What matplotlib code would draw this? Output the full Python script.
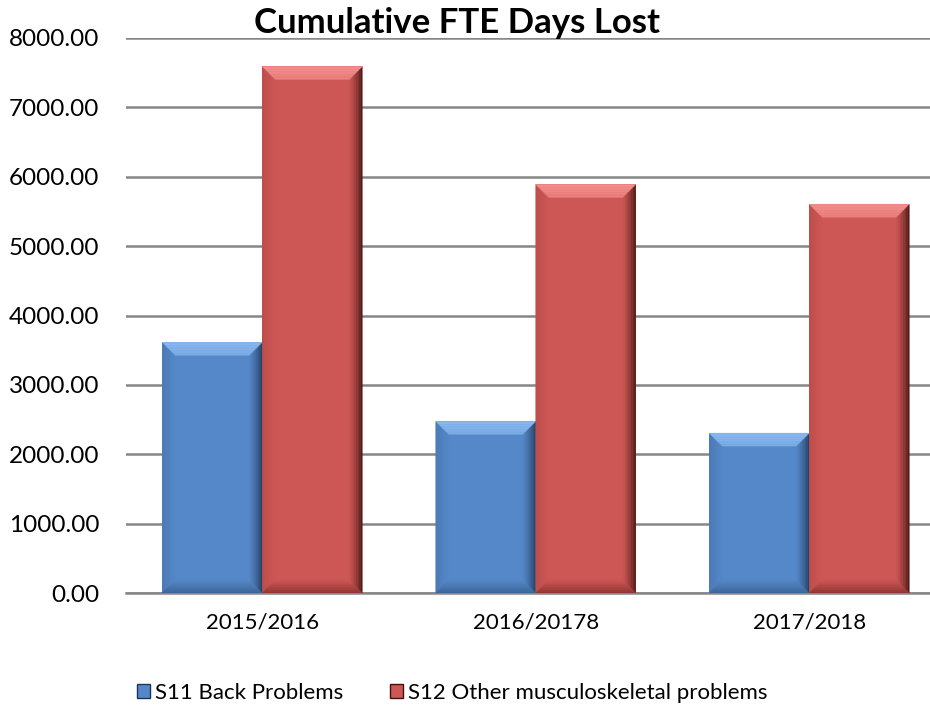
import numpy as np
import matplotlib
matplotlib.use('Agg')
import matplotlib.pyplot as plt
from matplotlib.patches import Polygon, Rectangle
from matplotlib.ticker import FormatStrFormatter

plt.rcParams['font.family'] = ['Lato', 'DejaVu Sans']

# ── Data ──────────────────────────────────────────────
categories = ['2015/2016', '2016/20178', '2017/2018']
s11_back = [3615, 2475, 2305]
s12_other = [7590, 5890, 5605]
series_names = ['S11 Back Problems', 'S12 Other musculoskeletal problems']

BLUE = dict(face='#5588c8', light='#8bbaf0', dark='#1d3554', side='#4a7ab5', bottom='#3a6496')
RED = dict(face='#cd5755', light='#f5908e', dark='#3e1211', side='#bc4d4b', bottom='#8e3533')

W, H = 930, 709
AX_L, AX_B, AX_T = 125.5, 593, 38
CAT_PX = 273.5


def mix(c1, c2, t):
    a = np.array(matplotlib.colors.to_rgb(c1))
    b = np.array(matplotlib.colors.to_rgb(c2))
    return tuple(a + (b - a) * t)


def bevel(ax, patch, pal, bev=13, steps=8):
    x0, y0 = patch.get_xy()
    x1 = x0 + patch.get_width()
    y1 = y0 + patch.get_height()
    (xa, ya), (xb, yb) = ax.transData.transform([(0, 0), (1, 1)])
    bx = bev / (xb - xa)
    by = bev / (yb - ya)
    for i in range(steps):
        t0, t1 = i / steps, (i + 1) / steps
        top = [(x0 + bx * t0, y1 - by * t0), (x1 - bx * t0, y1 - by * t0),
               (x1 - bx * t1, y1 - by * t1), (x0 + bx * t1, y1 - by * t1)]
        bot = [(x0 + bx * t0, y0 + by * t0), (x1 - bx * t0, y0 + by * t0),
               (x1 - bx * t1, y0 + by * t1), (x0 + bx * t1, y0 + by * t1)]
        rgt = [(x1 - bx * t0, y0 + by * t0), (x1 - bx * t0, y1 - by * t0),
               (x1 - bx * t1, y1 - by * t1), (x1 - bx * t1, y0 + by * t1)]
        lft = [(x0 + bx * t0, y0 + by * t0), (x0 + bx * t0, y1 - by * t0),
               (x0 + bx * t1, y1 - by * t1), (x0 + bx * t1, y0 + by * t1)]
        tm = (t0 + t1) / 2
        for pts, col in [(lft, mix(pal['side'], pal['face'], tm)),
                         (rgt, mix(pal['dark'], pal['face'], tm ** 0.7)),
                         (bot, mix(pal['bottom'], pal['face'], tm)),
                         (top, mix(pal['light'], mix(pal['light'], pal['face'], 0.3), tm))]:
            ax.add_patch(Polygon(pts, closed=True, facecolor=col, edgecolor=col,
                                 linewidth=0.3, zorder=3))


fig = plt.figure(figsize=(W / 100, H / 100), dpi=100)
ax = fig.add_axes([AX_L / W, 1 - AX_B / H, (W - AX_L) / W, (AX_B - AX_T) / H])

x = np.arange(len(categories))
bw = 100 / CAT_PX
b1 = ax.bar(x - bw / 2, s11_back, bw, color=BLUE['face'], zorder=2, linewidth=0)
b2 = ax.bar(x + bw / 2, s12_other, bw, color=RED['face'], zorder=2, linewidth=0)

ax.set_xlim(-0.5, -0.5 + (W - AX_L) / CAT_PX)
ax.set_ylim(0, 8000)
ax.set_yticks(np.arange(0, 8001, 1000))
ax.yaxis.set_major_formatter(FormatStrFormatter('%.2f'))
ax.set_xticks(x)
ax.set_xticklabels(categories)
ax.grid(axis='y', color='#868686', linewidth=1.8, zorder=0)
ax.set_axisbelow(True)
for s in ['top', 'right', 'left']:
    ax.spines[s].set_visible(False)
ax.spines['bottom'].set_color('#868686')
ax.spines['bottom'].set_linewidth(1.8)
ax.tick_params(axis='both', length=0, colors='black')
ax.tick_params(axis='y', pad=19, labelsize=17.5)
ax.tick_params(axis='x', pad=14, labelsize=16)

for p in b1:
    bevel(ax, p, BLUE)
for p in b2:
    bevel(ax, p, RED)

fig.text(457 / W, 1 - 23 / H, 'Cumulative FTE Days Lost', ha='center', va='center',
         fontsize=25, fontweight='bold')

handles = [Rectangle((0, 0), 1, 1, facecolor=BLUE['face'], edgecolor=BLUE['dark'], linewidth=1),
           Rectangle((0, 0), 1, 1, facecolor=RED['face'], edgecolor=RED['dark'], linewidth=1)]
fig.legend(handles, series_names, loc='center', bbox_to_anchor=(452 / W, 1 - 693 / H),
           ncol=2, frameon=False, fontsize=16, handlelength=0.62, handleheight=0.62,
           handletextpad=0.2, columnspacing=2.1)

fig.savefig('out.png', dpi=100)
